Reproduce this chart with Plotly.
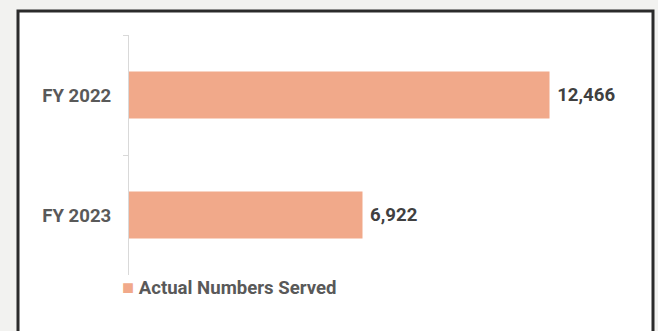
import plotly.graph_objects as go

# data
categories = ["FY 2022", "FY 2023"]
served = [12466, 6922]
series_name = "Actual Numbers Served"

# figure size and plot-area margins in pixels
W, H = 658, 331
L, R, T, B = 129, 23, 35, 56
pw, ph = W - L - R, H - T - B


def px(x):
    # figure pixel -> paper fraction
    return (x - L) / pw


def py(y):
    return 1 - (y - T) / ph


bar_color = "#F1A98A"
font_family = "Roboto, Arial, sans-serif"

fig = go.Figure(go.Bar(
    y=categories,
    x=served,
    orientation="h",
    name=series_name,
    marker=dict(color=bar_color, line=dict(width=0)),
    width=0.39,
    texttemplate="\u00a0%{x:,}",
    textposition="outside",
    textfont=dict(family=font_family, size=18.6, color="#404040", weight="bold"),
    cliponaxis=False,
    showlegend=False,
))

# legend drawn as a text line: coloured square + series name
legend_text = (f"<span style='color:{bar_color};font-size:20px'>■</span>"
               f" {series_name}")

fig.update_layout(
    width=W,
    height=H,
    margin=dict(l=L, r=R, t=T, b=B),
    paper_bgcolor="#F2F2F0",
    plot_bgcolor="rgba(0,0,0,0)",
    font=dict(family=font_family, color="#595959"),
    shapes=[
        # white card with dark frame
        dict(type="rect", xref="paper", yref="paper",
             x0=px(18), x1=px(653), y0=py(350), y1=py(11),
             fillcolor="white", line=dict(color="#2B2B2B", width=3),
             layer="below"),
    ],
    annotations=[
        dict(text=legend_text, xref="paper", yref="paper",
             x=px(120), y=py(287), xanchor="left", yanchor="middle",
             showarrow=False,
             font=dict(family=font_family, size=18.6, color="#595959", weight="bold")),
    ],
)

fig.update_xaxes(visible=False, range=[0, 15000])
fig.update_yaxes(
    categoryorder="array",
    categoryarray=categories,
    autorange="reversed",
    showline=True,
    linecolor="#D9D9D9",
    linewidth=1,
    ticks="outside",
    tickson="boundaries",
    ticklen=5,
    tickcolor="#D9D9D9",
    showgrid=False,
    tickfont=dict(family=font_family, size=18.6, color="#595959", weight="bold"),
    ticklabelstandoff=13,
)

# drop the default page margin so the figure sits at the window's corner
fig.write_html("out.html",
               config={"displayModeBar": False},
               post_script="document.body.style.margin='0';"
                           "document.body.style.overflow='hidden';")
